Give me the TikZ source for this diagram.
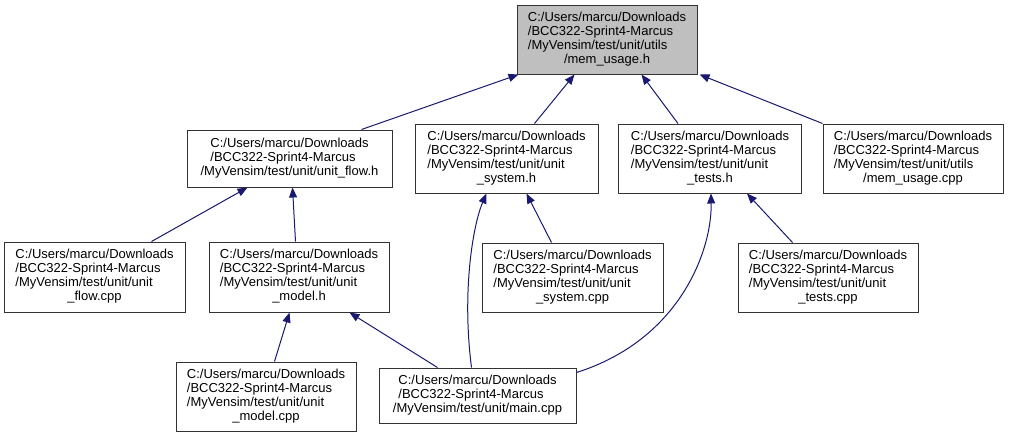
\documentclass[tikz,border=0pt]{standalone}
\usepackage{fontspec}
\setmainfont{Liberation Sans}
\usetikzlibrary{arrows.meta,calc}
\definecolor{edgeblue}{HTML}{191970}
\definecolor{rootgray}{HTML}{BFBFBF}

\newcommand{\flabel}[2]{\begin{tabular}{@{}c@{}}\begin{tabular}[b]{@{}l@{}}#1\end{tabular}\\#2\end{tabular}}

\begin{document}
\begin{tikzpicture}[
    x=0.75pt, y=-0.75pt,
    file/.style = {rectangle, draw=black!80, line width=0.75pt, fill=white, inner sep=0pt, font=\fontsize{9.75}{10.5}\selectfont},
    fsize/.style 2 args = {minimum width=#1*0.75pt, minimum height=#2*0.75pt},
    root/.style = {file, fill=rootgray},
    edge/.style = {draw=edgeblue, line width=0.75pt, -{Triangle[length=7.5pt,width=6pt]}}
]
\useasboundingbox (0,0) rectangle (1009,437);

\node (memh) [root, fsize={180}{69}] at (607,39.5) {\flabel{C:/Users/marcu/Downloads\\/BCC322-Sprint4-Marcus\\/MyVensim/test/unit/utils}{/mem\_usage.h}};

\node (flowh) [file, fsize={205}{57}] at (289.5,158.5) {\flabel{C:/Users/marcu/Downloads\\/BCC322-Sprint4-Marcus}{/MyVensim/test/unit/unit\_flow.h}};
\node (sysh) [file, fsize={183}{69}] at (506.5,158.5) {\flabel{C:/Users/marcu/Downloads\\/BCC322-Sprint4-Marcus\\/MyVensim/test/unit/unit}{\_system.h}};
\node (testsh) [file, fsize={183}{69}] at (710,158.5) {\flabel{C:/Users/marcu/Downloads\\/BCC322-Sprint4-Marcus\\/MyVensim/test/unit/unit}{\_tests.h}};
\node (memcpp) [file, fsize={180}{69}] at (913,158.5) {\flabel{C:/Users/marcu/Downloads\\/BCC322-Sprint4-Marcus\\/MyVensim/test/unit/utils}{/mem\_usage.cpp}};

\node (flowcpp) [file, fsize={181}{70}] at (94.5,277) {\flabel{C:/Users/marcu/Downloads\\/BCC322-Sprint4-Marcus\\/MyVensim/test/unit/unit}{\_flow.cpp}};
\node (modelh) [file, fsize={180}{70}] at (299,277) {\flabel{C:/Users/marcu/Downloads\\/BCC322-Sprint4-Marcus\\/MyVensim/test/unit/unit}{\_model.h}};
\node (syscpp) [file, fsize={181}{69}] at (572.5,277.5) {\flabel{C:/Users/marcu/Downloads\\/BCC322-Sprint4-Marcus\\/MyVensim/test/unit/unit}{\_system.cpp}};
\node (testscpp) [file, fsize={180}{69}] at (828,277.5) {\flabel{C:/Users/marcu/Downloads\\/BCC322-Sprint4-Marcus\\/MyVensim/test/unit/unit}{\_tests.cpp}};

\node (modelcpp) [file, fsize={180}{69}] at (266,396.5) {\flabel{C:/Users/marcu/Downloads\\/BCC322-Sprint4-Marcus\\/MyVensim/test/unit/unit}{\_model.cpp}};
\node (main) [file, fsize={197}{55}] at (477.5,395.5) {\flabel{C:/Users/marcu/Downloads\\/BCC322-Sprint4-Marcus}{/MyVensim/test/unit/main.cpp}};

\draw [edge] ($(flowh.north west)+(175,0)$) -- ($(memh.south west)+(2,0)$);
\draw [edge] ($(sysh.north west)+(120,0)$) -- ($(memh.south west)+(58,0)$);
\draw [edge] ($(testsh.north west)+(60,0)$) -- ($(memh.south west)+(125,0)$);
\draw [edge] (memcpp.north west) -- ($(memh.south east)+(2,0)$);

\draw [edge] ($(flowcpp.north west)+(148,0)$) -- ($(flowh.south west)+(61,0)$);
\draw [edge] ($(modelh.north west)+(87,0)$) -- ($(flowh.south west)+(106,0)$);
\draw [edge] ($(syscpp.north west)+(70,0)$) -- ($(sysh.south west)+(112,0)$);
\draw [edge] ($(main.north west)+(93,0)$) .. controls +(-10,-78) and +(-13,30) .. ($(sysh.south west)+(72,0)$);
\draw [edge] ($(testscpp.north west)+(55,0)$) -- ($(testsh.south west)+(129,0)$);
\draw [edge] ($(main.north east)+(0,5)$) .. controls +(104,-33) and +(1,56) .. ($(testsh.south west)+(93,0)$);
\draw [edge] ($(modelcpp.north west)+(99,0)$) -- ($(modelh.south west)+(81,0)$);
\draw [edge] ($(main.north west)+(59,0)$) -- ($(modelh.south west)+(141,0)$);
\end{tikzpicture}
\end{document}
